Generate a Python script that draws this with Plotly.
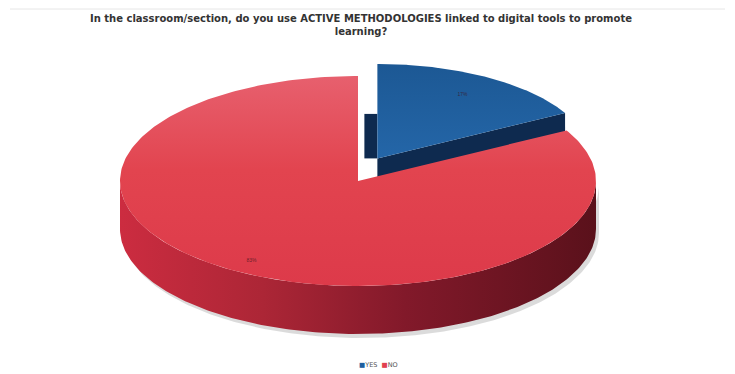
import numpy as np
import plotly.graph_objects as go

# ---- data ----
categories = ["YES", "NO"]
values = [17, 83]
title_text = "In the classroom/section, do you use ACTIVE METHODOLOGIES linked to digital tools to promote<br>learning?"

# ---- style ----
top_colors = ["#1F5F9F", None]
end_face_colors = ["#0E2A4F", "#7A1A27"]
explode = [0.2, 0.0]
persp_scale = [0.9, 1.0]
CX, CY, RX, RY, DEPTH = 358, 181, 238, 105, 48
EXP_RX, EXP_RY = 0.8 * RX, 1.25 * RY
PAGE_OFF = 8  # body margin of the page

total = float(sum(values))
fracs = [v / total for v in values]
starts = np.cumsum([0] + fracs[:-1]) * 360.0
ends = starts + np.array(fracs) * 360.0


def pt(theta, cx, cy, s=1.0, dy=0.0):
    t = np.radians(theta)
    return cx + s * RX * np.sin(t), cy - s * RY * np.cos(t) + dy


fig = go.Figure()
geo = []
for i in range(len(values)):
    t0, t1 = starts[i], ends[i]
    tm = (t0 + t1) / 2
    ox = explode[i] * EXP_RX * np.sin(np.radians(tm))
    oy = -explode[i] * EXP_RY * np.cos(np.radians(tm))
    geo.append((t0, t1, tm, CX + ox, CY + oy, persp_scale[i]))

# soft shadow under the front wall
for i, (t0, t1, tm, cx, cy, s) in enumerate(geo):
    a, b = max(t0, 90), min(t1, 270)
    if a < b:
        th = np.linspace(a, b, 200)
        xs, ys = pt(th, cx + 3, cy + 4, s, DEPTH)
        xs2, ys2 = pt(th[::-1], cx + 3, cy + 4, s, 0)
        fig.add_trace(go.Scatter(x=np.r_[xs, xs2], y=np.r_[ys, ys2], fill="toself",
                                 fillcolor="rgba(0,0,0,0.14)", line=dict(width=0),
                                 mode="lines", hoverinfo="skip", showlegend=False))

# exploded slice: side faces then top face
for i, (t0, t1, tm, cx, cy, s) in enumerate(geo):
    if explode[i] > 0:
        ex, ey = pt(t1, cx, cy, s)
        d = DEPTH * s * 0.6
        fig.add_trace(go.Scatter(x=[cx, ex, ex, cx, cx], y=[cy, ey, ey + d, cy + d, cy],
                                 fill="toself", fillcolor=end_face_colors[i],
                                 line=dict(width=0), mode="lines", hoverinfo="skip",
                                 showlegend=False))
        sx, sy = pt(t0, cx, cy, s)
        fig.add_trace(go.Scatter(x=[cx - 13, cx, sx, sx - 13, cx - 13],
                                 y=[cy, cy, sy + 50, sy + 50, cy],
                                 fill="toself", fillcolor=end_face_colors[i],
                                 line=dict(width=0), mode="lines", hoverinfo="skip",
                                 showlegend=False))
        th = np.linspace(t0, t1, 150)
        xs, ys = pt(th, cx, cy, s)
        fig.add_trace(go.Scatter(x=np.r_[cx, xs, cx], y=np.r_[cy, ys, cy], fill="toself",
                                 fillgradient=dict(type="vertical",
                                                   colorscale=[[0, "#2466A8"], [1, "#1C5894"]]),
                                 line=dict(width=0),
                                 mode="lines", hoverinfo="skip", showlegend=False))

# front wall of the big slice
for i, (t0, t1, tm, cx, cy, s) in enumerate(geo):
    a, b = max(t0, 90), min(t1, 270)
    if a < b and explode[i] == 0:
        th = np.linspace(a, b, 200)
        xs, ys = pt(th, cx, cy, s, DEPTH)
        xs2, ys2 = pt(th[::-1], cx, cy, s, 0)
        fig.add_trace(go.Scatter(
            x=np.r_[xs, xs2], y=np.r_[ys, ys2], fill="toself", line=dict(width=0),
            fillgradient=dict(type="horizontal",
                              colorscale=[[0, "#CC2C40"], [0.3, "#AC2636"],
                                          [0.6, "#82192A"], [1, "#5A111B"]]),
            mode="lines", hoverinfo="skip", showlegend=False))

# top face of the big slice
for i, (t0, t1, tm, cx, cy, s) in enumerate(geo):
    if explode[i] == 0:
        th = np.linspace(t0, t1, 300)
        xs, ys = pt(th, cx, cy, s)
        fig.add_trace(go.Scatter(
            x=np.r_[cx, xs, cx], y=np.r_[cy, ys, cy], fill="toself", line=dict(width=0),
            fillgradient=dict(type="vertical",
                              colorscale=[[0, "#DD3A4A"], [0.55, "#E2444F"],
                                          [1, "#E7606E"]]),
            mode="lines", hoverinfo="skip", showlegend=False))

# tiny data labels
label_r = [0.78, 0.88]
lx, ly, lt = [], [], []
for i, (t0, t1, tm, cx, cy, s) in enumerate(geo):
    x, y = pt(tm, cx, cy, s * label_r[i])
    lx.append(x); ly.append(y); lt.append(f"{values[i]}%")
fig.add_trace(go.Scatter(x=lx, y=ly, text=lt, mode="text",
                         textfont=dict(size=5, color="rgba(60,20,30,0.75)",
                                       family="Liberation Sans"),
                         hoverinfo="skip", showlegend=False))

legend_html = ('<span style="color:#1F5F9F">■</span>' + categories[0] +
               '  <span style="color:#E1404F">■</span>' + categories[1])

fig.update_layout(
    width=735, height=374,
    margin=dict(l=0, r=0, t=0, b=0),
    paper_bgcolor="white", plot_bgcolor="white",
    showlegend=False,
    xaxis=dict(range=[PAGE_OFF, 735 + PAGE_OFF], visible=False, fixedrange=True),
    yaxis=dict(range=[374 + PAGE_OFF, PAGE_OFF], visible=False, fixedrange=True),
    annotations=[
        dict(x=361, y=25, xref="x", yref="y", text="<b>" + title_text + "</b>",
             showarrow=False, yanchor="middle",
             font=dict(size=10, color="#333333", family="DejaVu Sans"),
             align="center"),
        dict(x=378, y=365, xref="x", yref="y", text=legend_html, showarrow=False,
             yanchor="middle",
             font=dict(size=6.5, color="#555555", family="DejaVu Sans")),
    ],
    shapes=[dict(type="line", xref="x", yref="y", x0=10, x1=725, y0=9, y1=9,
                 line=dict(color="#E6E6E6", width=1))],
)

fig.write_html("out.html")
